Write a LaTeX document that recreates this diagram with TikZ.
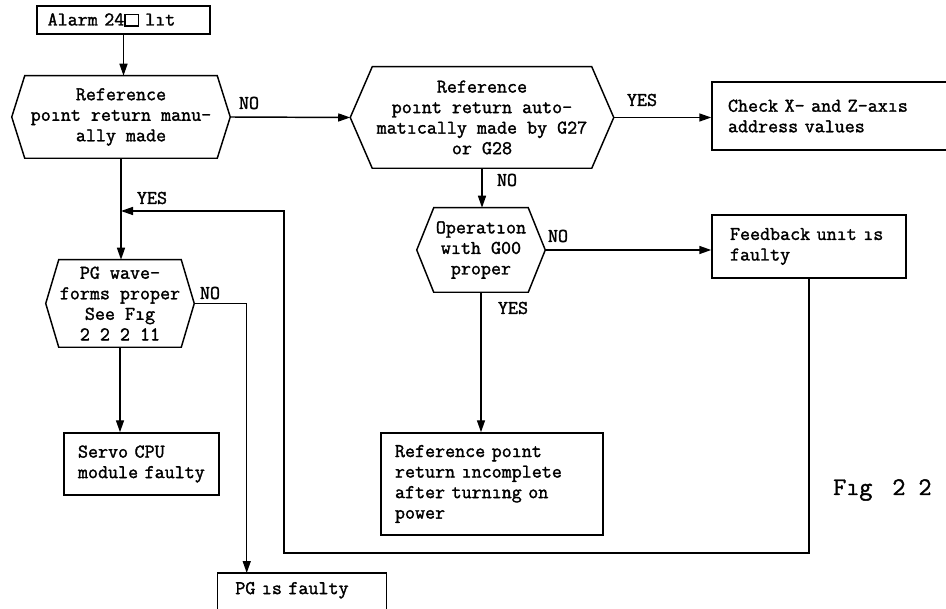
\documentclass[tikz,border=0pt]{standalone}
\usepackage{fontspec}
\newfontfamily\flowfont{Latin Modern Mono}[FakeBold=1.6]
\usetikzlibrary{arrows.meta,calc}

\tikzset{
  every node/.style={font=\flowfont\fontsize{14.6}{15.4}\selectfont},
  link/.style={line width=1.1pt},
  arr/.style={link,-{Triangle[length=9pt,width=6pt]}},
  hexbox/.style={inner sep=0pt,align=center},
  plainbox/.style={draw,line width=1.1pt,align=left},
  lbl/.style={inner sep=0pt}
}

\begin{document}
\begin{tikzpicture}[x=0.75pt,y=-0.75pt]
\useasboundingbox (0,0) rectangle (946,609);
\clip (0,0) rectangle (946,609);

% start box
\node[plainbox,minimum width=129.75pt,minimum height=21pt,inner xsep=8pt,
      text width=113.75pt] (alarm) at (123.5,20)
  {Alarm 24{\setlength\fboxsep{0pt}\setlength\fboxrule{0.9pt}\fbox{\rule{0pt}{7.5pt}\hspace{9pt}}} lıt};

% decision boxes (outlines drawn below)
\node[hexbox,minimum width=163.5pt,minimum height=61.5pt] (h1) at (121,117)
  {Reference\\poınt return manu-\\ally made};
\node[hexbox,minimum width=197.25pt,minimum height=75.75pt] (h2) at (482,117.5)
  {Reference\\poınt return auto-\\matıcally made by G27\\or G28};
\node[hexbox,minimum width=96pt,minimum height=63pt] (op) at (481,250)
  {Operatıon\\wıth G00\\proper};
\node[hexbox,minimum width=111pt,minimum height=65.25pt] (pg) at (120,303.5)
  {PG wave-\\forms proper\\See Fıg\\2 2 2 11};

\foreach \n/\d in {h1/13,h2/22,op/17,pg/13}{
  \draw[link,line join=miter] (\n.west) -- ($(\n.north west)+(\d,0)$) -- ($(\n.north east)-(\d,0)$)
    -- (\n.east) -- ($(\n.south east)-(\d,0)$) -- ($(\n.south west)+(\d,0)$) -- cycle;
}

% result boxes
\node[plainbox,minimum width=193.5pt,minimum height=51pt,inner xsep=12pt,
      text width=169.5pt] (chk) at (841,116)
  {Check X- and Z-axıs\\address values};
\node[plainbox,minimum width=145.5pt,minimum height=47.25pt,inner xsep=13.5pt,
      text width=118.5pt] (fb) at (809,246.5)
  {Feedback unıt ıs\\faulty};
\node[plainbox,minimum width=166.5pt,minimum height=76.5pt,inner xsep=10.5pt,
      text width=145.5pt] (inc) at (492,484)
  {Reference poınt\\return ıncomplete\\after turnıng on\\power};
\node[plainbox,minimum width=116.25pt,minimum height=46.5pt,inner xsep=10.5pt,
      text width=95.25pt] (servo) at (141.5,464)
  {Servo CPU\\module faulty};
\node[align=left,minimum width=126pt,minimum height=25.5pt,inner xsep=13pt,
      text width=100pt,anchor=north] (pgf) at (302,573)
  {PG ıs faulty};
\draw[link] ($(pgf.north west)+(0,60)$) -- (pgf.north west) -- (pgf.north east)
  -- ($(pgf.north east)+(0,60)$);

% connectors
\draw[arr] (alarm.south) -- (alarm.south |- h1.north);
\draw[arr] (h1.east) -- (h2.west);
\draw[arr] (h2.east) -- (h2.east -| chk.west);
\draw[arr] (h2.south) -- (h2.south |- op.north);
\draw[arr] (op.east) -- (op.east -| fb.west);
\draw[arr] (op.south) -- (op.south |- inc.north);
\draw[arr] (h1.south) -- (h1.south |- pg.north);
\draw[arr] (pg.south) -- (pg.south |- servo.north);
\draw[arr] (pg.east) -| ($(pgf.north west)+(29,0)$);

% feedback loop back to the manual branch
\coordinate (loopA) at (284,553);
\coordinate (loopB) at (121,211);
\draw[arr] (fb.south) |- (loopA) |- (loopB);

% branch labels
\node[lbl] (no1) at (249,103) {NO};
\node[lbl] (yes1) at (642,100) {YES};
\node[lbl] (no2) at (507,180) {NO};
\node[lbl] (no3) at (558,236) {NO};
\node[lbl] (yes2) at (513,308) {YES};
\node[lbl] (yes3) at (152,198) {YES};
\node[lbl] (no4) at (210,293) {NO};

% figure caption
\node[lbl,anchor=west,font=\flowfont\fontsize{19}{22}\selectfont] (figcap) at (833,490)
  {Fıg\hspace{15pt}2 2};
\end{tikzpicture}
\end{document}
